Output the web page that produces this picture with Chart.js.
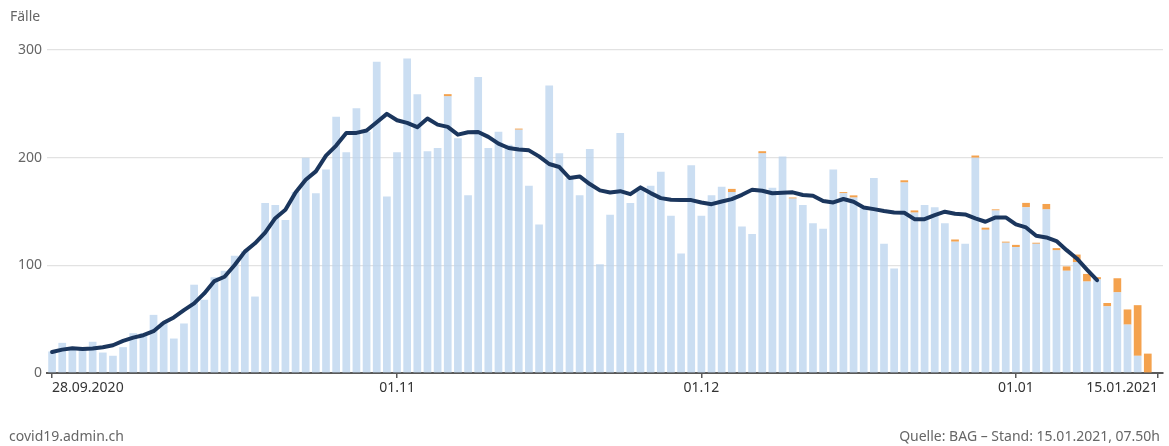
<!DOCTYPE html>
<html>
<head>
<meta charset="utf-8">
<script src="https://cdn.jsdelivr.net/npm/chart.js@4/dist/chart.umd.min.js"></script>
<style>
  html, body { margin: 0; padding: 0; background: #fff; }
  #wrap { position: relative; width: 1169px; height: 446px; font-family: "Noto Sans", sans-serif; }
  #chart { position: absolute; left: 0; top: 0; }
  .txt { position: absolute; font-size: 14px; line-height: 18px; color: #666; white-space: nowrap; }
</style>
</head>
<body>
<div id="wrap">
  <canvas id="chart" width="1169" height="446"></canvas>
  <div class="txt" style="left:10px; top:7px;">Fälle</div>
  <div class="txt" style="left:9px; top:427px;">covid19.admin.ch</div>
  <div class="txt" style="right:9px; top:427px;">Quelle: BAG – Stand: 15.01.2021, 07.50h</div>
</div>
<script>
// daily categories 28.09.2020 .. 15.01.2021
const firstDay = new Date(2020, 8, 28);
const dayCount = 110;
const categories = [];
for (let i = 0; i < dayCount; i++) {
    const d = new Date(firstDay.getFullYear(), firstDay.getMonth(), firstDay.getDate() + i);
    const dd = String(d.getDate()).padStart(2, '0');
    const mm = String(d.getMonth() + 1).padStart(2, '0');
    categories.push(dd + '.' + mm + '.' + d.getFullYear());
}

// which dates get a tick label, and the text shown
const tickDates = ['28.09.2020', '01.11.2020', '01.12.2020', '01.01.2021', '15.01.2021'];
const tickLabels = ['28.09.2020', '01.11', '01.12', '01.01', '15.01.2021'];
const yTicks = [0, 100, 200, 300];

// confirmed cases per day
const casesReported = [
    20, 28, 24, 23, 29, 19, 16, 24, 37, 37,
    54, 47, 32, 46, 82, 68, 89, 95, 109, 113,
    71, 158, 156, 142, 168, 200, 167, 189, 238, 205,
    246, 224, 289, 164, 205, 292, 259, 206, 209, 257,
    218, 165, 275, 209, 224, 212, 226, 174, 138, 267,
    204, 181, 165, 208, 101, 147, 223, 158, 170, 174,
    187, 146, 111, 193, 146, 165, 173, 168, 136, 129,
    204, 172, 201, 162, 156, 139, 134, 189, 167, 163,
    153, 181, 120, 97, 177, 149, 156, 154, 139, 122,
    120, 200, 133, 151, 121, 117, 154, 120, 152, 114,
    95, 103, 85, 87, 62, 75, 45, 16, 0, null
];
// cases added since the previous report
const casesNew = [
    0, 0, 0, 0, 0, 0, 0, 0, 0, 0,
    0, 0, 0, 0, 0, 0, 0, 0, 0, 0,
    0, 0, 0, 0, 0, 0, 0, 0, 0, 0,
    0, 0, 0, 0, 0, 0, 0, 0, 0, 2,
    0, 0, 0, 0, 0, 0, 1, 0, 0, 0,
    0, 0, 0, 0, 0, 0, 0, 0, 0, 0,
    0, 0, 0, 0, 0, 0, 0, 3, 0, 0,
    2, 0, 0, 1, 0, 0, 0, 0, 1, 2,
    0, 0, 0, 0, 2, 2, 0, 0, 0, 2,
    0, 2, 2, 1, 1, 2, 4, 1, 5, 2,
    4, 7, 7, 2, 3, 13, 14, 47, 18, null
];
// 7-day rolling average
const rollingAvg = [
    19.5, 21.7, 23, 22.4, 22.7, 23.9, 25.8, 29.8, 32.9, 35.1,
    38.8, 46.6, 51.6, 58.4, 64.6, 73.9, 85.4, 89.4, 100.3, 112.7,
    120.5, 130.4, 143.8, 151.6, 167.7, 179.5, 187.3, 201.9, 211.2, 223,
    223, 225.2, 232.9, 240.7, 234.8, 232.3, 228.3, 236.3, 230.7, 228.6,
    221.4, 223.6, 223.9, 219.3, 213, 209, 207.5, 206.8, 201.2, 194.1,
    191.3, 181.1, 182.6, 175.5, 169.6, 167.7, 168.9, 166.1, 172.4, 167.1,
    162.4, 160.9, 160.6, 160.6, 158.4, 156.8, 159.3, 161.5, 165.5, 170.2,
    169.3, 167, 167.4, 167.8, 165.3, 164.7, 159.7, 158.4, 161.6, 159.1,
    153.8, 152.2, 150.4, 149.1, 148.8, 142.9, 142.9, 146.7, 149.8, 147.9,
    147.3, 143.6, 140.5, 144.5, 144.5, 138, 135.2, 127.4, 125.9, 122.5,
    114.1, 106.4, 96.1, 86.2, null, null, null, null, null, null
];

function tickText(index) {
    const pos = tickDates.indexOf(categories[index]);
    return pos >= 0 ? tickLabels[pos] : '';
}

const ctx = document.getElementById('chart').getContext('2d');
new Chart(ctx, {
    type: 'bar',
    data: {
        labels: categories,
        datasets: [
            {
                type: 'line',
                data: rollingAvg,
                stack: 'avg',
                order: 0,
                borderColor: '#1b365d',
                borderWidth: 4,
                pointRadius: 0,
                tension: 0,
                borderCapStyle: 'round',
                borderJoinStyle: 'round',
                spanGaps: false
            },
            {
                data: casesReported,
                stack: 'cases',
                order: 1,
                backgroundColor: 'rgba(186, 211, 238, 0.75)',
                categoryPercentage: 1,
                barPercentage: 0.76
            },
            {
                data: casesNew,
                stack: 'cases',
                order: 2,
                backgroundColor: '#f4a24e',
                categoryPercentage: 1,
                barPercentage: 0.76
            }
        ]
    },
    options: {
        responsive: false,
        animation: false,
        devicePixelRatio: 1,
        layout: { padding: { top: 50, right: 6, bottom: 0, left: 0 } },
        plugins: { legend: { display: false }, tooltip: { enabled: false } },
        scales: {
            x: {
                stacked: true,
                offset: true,
                afterFit: function (scale) { scale.height = 73; },
                border: { display: true, color: '#5a5a5a', width: 2 },
                grid: {
                    offset: false,
                    drawOnChartArea: false,
                    drawTicks: true,
                    tickLength: 5,
                    lineWidth: 1.5,
                    color: function (c) { return tickText(c.index) ? '#5a5a5a' : 'rgba(0,0,0,0)'; }
                },
                ticks: {
                    autoSkip: false,
                    maxRotation: 0,
                    minRotation: 0,
                    align: 'inner',
                    padding: 2,
                    color: '#333',
                    font: { family: 'Noto Sans', size: 14 },
                    callback: function (value, index) { return tickText(index); }
                }
            },
            y: {
                stacked: true,
                min: 0,
                max: 300,
                afterFit: function (scale) { scale.width = 47; },
                afterBuildTicks: function (scale) { scale.ticks = yTicks.map(v => ({ value: v })); },
                border: { display: false },
                grid: { color: '#e2e2e2', lineWidth: 1.2, drawTicks: false },
                ticks: {
                    padding: 5,
                    color: '#666',
                    font: { family: 'Noto Sans', size: 14 }
                }
            }
        }
    }
});
</script>
</body>
</html>
